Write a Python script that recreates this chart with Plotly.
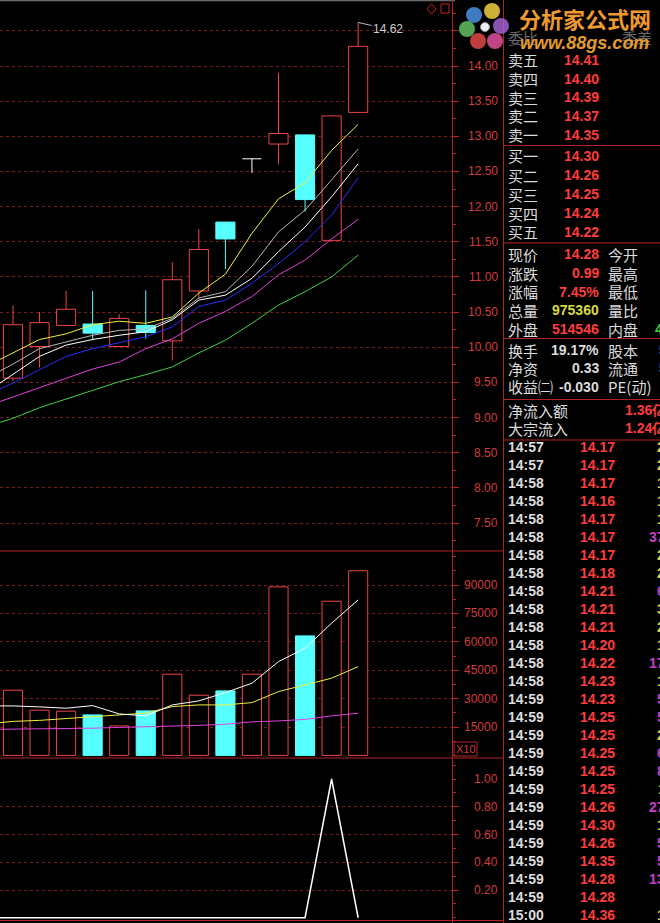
import plotly.graph_objects as go

W, H = 660, 923


def px(x):
    return x / W


def py(y):
    return 1 - y / H


# ---------------- data ----------------
days = [-1, 0, 1, 2, 3, 4, 5, 6, 7, 8, 9, 10, 11, 12, 13]
candle_days = [0, 1, 2, 3, 4, 5, 6, 7, 8, 9, 10, 11, 12, 13]
opens = [9.56, 10.01, 10.31, 10.33, 10.01, 10.31, 10.09, 10.80, 11.78, 12.68, 12.89, 13.02, 11.52, 13.34]
highs = [10.59, 10.50, 10.80, 10.80, 10.47, 10.81, 11.21, 11.68, 11.78, 12.68, 13.90, 13.02, 13.30, 14.62]
lows = [9.52, 9.71, 10.30, 10.10, 10.00, 10.12, 9.81, 10.69, 11.11, 12.48, 12.60, 11.93, 11.52, 13.34]
closes = [10.32, 10.35, 10.54, 10.20, 10.41, 10.21, 10.96, 11.39, 11.54, 12.68, 13.04, 12.10, 13.29, 14.28]
volumes = [34440, 23870, 23350, 21390, 15580, 23500, 42890, 31800, 34070, 42890, 89000, 63120, 81440, 97536]

ma_yellow = [9.73, 9.92, 10.11, 10.19, 10.32, 10.37, 10.34, 10.43, 10.77, 11.04, 11.62, 12.11, 12.34, 12.80, 13.17]
ma_silver = [9.56, 9.76, 9.98, 10.08, 10.17, 10.24, 10.26, 10.41, 10.70, 10.79, 11.15, 11.64, 11.95, 12.38, 12.82]
ma_white = [9.36, 9.61, 9.87, 10.03, 10.11, 10.17, 10.22, 10.39, 10.67, 10.74, 10.98, 11.36, 11.71, 12.14, 12.61]
ma_blue = [9.32, 9.49, 9.68, 9.87, 9.98, 10.06, 10.15, 10.29, 10.58, 10.67, 10.91, 11.19, 11.50, 11.88, 12.41]
ma_magenta = [9.16, 9.29, 9.43, 9.56, 9.69, 9.79, 9.98, 10.12, 10.34, 10.51, 10.72, 11.03, 11.24, 11.54, 11.82]
ma_green = [8.87, 8.99, 9.14, 9.26, 9.39, 9.51, 9.61, 9.72, 9.92, 10.10, 10.34, 10.60, 10.79, 11.00, 11.31]

vol_ma_white = [26140, 26140, 25620, 24930, 26300, 21920, 20860, 26670, 28790, 33170, 38130, 49540, 56620, 69820, 82130]
vol_ma_yellow = [16640, 17960, 18490, 19540, 20490, 21390, 22290, 25780, 26670, 26670, 27890, 33700, 37240, 40780, 46900]
vol_ma_magenta = [13730, 13840, 14000, 14160, 14370, 14790, 15050, 15320, 15850, 16480, 17690, 18220, 19010, 20860, 22290]

signal = [0, 0, 0, 0, 0, 0, 0, 0, 0, 0, 0, 0, 0, 1, 0]

price_ticks = [7.5, 8.0, 8.5, 9.0, 9.5, 10.0, 10.5, 11.0, 11.5, 12.0, 12.5, 13.0, 13.5, 14.0]
price_labels = ["7.50", "8.00", "8.50", "9.00", "9.50", "10.00", "10.50", "11.00", "11.50", "12.00",
                "12.50", "13.00", "13.50", "14.00"]
vol_ticks = [15000, 30000, 45000, 60000, 75000, 90000]
vol_labels = ["15000", "30000", "45000", "60000", "75000", "90000"]
sig_ticks = [0.2, 0.4, 0.6, 0.8, 1.0]
sig_labels = ["0.20", "0.40", "0.60", "0.80", "1.00"]
sig_grid = [0.2, 0.4, 0.6, 0.8]

book_labels = ["卖五", "卖四", "卖三", "卖二", "卖一", "买一", "买二", "买三", "买四", "买五"]
book_prices = ["14.41", "14.40", "14.39", "14.37", "14.35", "14.30", "14.26", "14.25", "14.24", "14.22"]

quote_labels_l = ["现价", "涨跌", "涨幅", "总量", "外盘"]
quote_values_l = ["14.28", "0.99", "7.45%", "975360", "514546"]
quote_colors_l = ["red", "red", "red", "yellow", "red"]
quote_labels_r = ["今开", "最高", "最低", "量比", "内盘"]

info_labels_l = ["换手", "净资", "收益㈡"]
info_values_l = ["19.17%", "0.33", "-0.030"]
info_labels_r = ["股本", "流通", "PE(动)"]

flow_labels = ["净流入额", "大宗流入"]
flow_values = ["1.36亿", "1.24亿"]

tape_times = ["14:57", "14:57", "14:58", "14:58", "14:58", "14:58", "14:58", "14:58", "14:58", "14:58",
              "14:58", "14:58", "14:58", "14:58", "14:59", "14:59", "14:59", "14:59", "14:59", "14:59",
              "14:59", "14:59", "14:59", "14:59", "14:59", "14:59", "15:00"]
tape_prices = ["14.17", "14.17", "14.17", "14.16", "14.17", "14.17", "14.17", "14.18", "14.21", "14.21",
               "14.21", "14.20", "14.22", "14.23", "14.23", "14.25", "14.25", "14.25", "14.25", "14.25",
               "14.26", "14.30", "14.26", "14.35", "14.28", "14.28", "14.36"]
tape_vols = ["21", "25", "13", "12", "10", "372", "20", "26", "68", "30", "22", "15", "172", "18",
             "51", "50", "22", "60", "80", "11", "275", "13", "55", "58", "136", "8", "10"]
tape_big = [0, 0, 0, 0, 0, 1, 0, 0, 1, 0, 0, 0, 1, 0, 1, 1, 0, 1, 1, 0, 1, 0, 1, 1, 1, 0, 0]

# ---------------- styling ----------------
BG = "#000000"
RED = "#EE4444"
CYAN = "#55FFFF"
AXC = "#B22222"
GRID = "#7A1C1C"
LBL = "#D23C3C"
TXT = "#DCDCDC"
VRED = "#FF3C3C"
VYEL = "#D8D840"
PURP = "#C040C0"
NUMF = "Liberation Sans"
CJK = "Noto Sans CJK SC"
BW = 0.72

fig = go.Figure()

up = [i for i in range(len(candle_days)) if closes[i] > opens[i]]
down = [i for i in range(len(candle_days)) if closes[i] < opens[i]]
flat = [i for i in range(len(candle_days)) if closes[i] == opens[i]]


def wicks(idx):
    xs, ys = [], []
    for i in idx:
        d = candle_days[i]
        top = max(opens[i], closes[i])
        bot = min(opens[i], closes[i])
        if highs[i] > top:
            xs += [d, d, None]
            ys += [top, highs[i], None]
        if lows[i] < bot:
            xs += [d, d, None]
            ys += [bot, lows[i], None]
    return xs, ys


# candle bodies
fig.add_trace(go.Bar(x=[candle_days[i] for i in up], y=[closes[i] - opens[i] for i in up],
                     base=[opens[i] for i in up], width=BW,
                     marker=dict(color=BG, line=dict(color=RED, width=1)),
                     xaxis="x", yaxis="y", hoverinfo="skip"))
fig.add_trace(go.Bar(x=[candle_days[i] for i in down], y=[opens[i] - closes[i] for i in down],
                     base=[closes[i] for i in down], width=BW,
                     marker=dict(color=CYAN, line=dict(color=CYAN, width=1)),
                     xaxis="x", yaxis="y", hoverinfo="skip"))

for idx, col in [(up, RED), (down, CYAN), (flat, "#FFFFFF")]:
    xs, ys = wicks(idx)
    if xs:
        fig.add_trace(go.Scatter(x=xs, y=ys, mode="lines", line=dict(color=col, width=1),
                                 xaxis="x", yaxis="y", hoverinfo="skip"))

# doji bodies
dx, dy = [], []
for i in flat:
    d = candle_days[i]
    dx += [d - BW / 2, d + BW / 2, None]
    dy += [closes[i], closes[i], None]
fig.add_trace(go.Scatter(x=dx, y=dy, mode="lines", line=dict(color="#FFFFFF", width=1),
                         xaxis="x", yaxis="y", hoverinfo="skip"))

# moving averages
for vals, col in [(ma_green, "#40D040"), (ma_magenta, "#E040E0"), (ma_blue, "#2830FF"),
                  (ma_white, "#FFFFFF"), (ma_silver, "#B8B8B8"), (ma_yellow, "#F0F040")]:
    fig.add_trace(go.Scatter(x=days, y=vals, mode="lines", line=dict(color=col, width=1),
                             xaxis="x", yaxis="y", hoverinfo="skip"))

# volume bars
vup = [i for i in range(len(candle_days)) if closes[i] >= opens[i]]
vdn = [i for i in range(len(candle_days)) if closes[i] < opens[i]]
fig.add_trace(go.Bar(x=[candle_days[i] for i in vup], y=[volumes[i] for i in vup], width=BW,
                     marker=dict(color=BG, line=dict(color=RED, width=1)),
                     xaxis="x", yaxis="y2", hoverinfo="skip"))
fig.add_trace(go.Bar(x=[candle_days[i] for i in vdn], y=[volumes[i] for i in vdn], width=BW,
                     marker=dict(color=CYAN, line=dict(color=CYAN, width=1)),
                     xaxis="x", yaxis="y2", hoverinfo="skip"))
for vals, col in [(vol_ma_magenta, "#E040E0"), (vol_ma_yellow, "#F0F040"), (vol_ma_white, "#FFFFFF")]:
    fig.add_trace(go.Scatter(x=days, y=vals, mode="lines", line=dict(color=col, width=1),
                             xaxis="x", yaxis="y2", hoverinfo="skip"))

# indicator
fig.add_trace(go.Scatter(x=days, y=signal, mode="lines", line=dict(color="#FFFFFF", width=1.5),
                         xaxis="x", yaxis="y3", hoverinfo="skip"))

# ---------------- axes ----------------
common = dict(side="right", anchor="x", showgrid=True, gridcolor=GRID, griddash="dot", gridwidth=1,
              ticks="outside", ticklen=6, tickwidth=1, tickcolor=AXC, showticklabels=False,
              zeroline=False, showline=False, fixedrange=True)

fig.update_layout(
    width=W, height=H, margin=dict(l=0, r=0, t=0, b=0),
    paper_bgcolor=BG, plot_bgcolor=BG, showlegend=False, barmode="overlay",
    xaxis=dict(domain=[0, px(452)], range=[-13 / 26.55, 439 / 26.55], visible=False, fixedrange=True),
    yaxis=dict(domain=[py(551), 1], range=[7.1017, 14.9387], tickmode="linear", tick0=7.5, dtick=0.5,
               minor=dict(tick0=7.5, dtick=0.25, ticks="outside", ticklen=3, tickcolor=AXC, showgrid=False),
               **common),
    yaxis2=dict(domain=[py(758), py(551)], range=[-1373, 107958], tickmode="array", tickvals=vol_ticks,
                minor=dict(tickmode="linear", tick0=0, dtick=7500, ticks="outside", ticklen=3,
                           tickcolor=AXC, showgrid=False),
                **common),
    yaxis3=dict(domain=[py(920), py(758)], range=[-0.0162, 1.1514], tickmode="array", tickvals=sig_grid,
                minor=dict(tickmode="linear", tick0=0, dtick=0.1, ticks="outside", ticklen=3,
                           tickcolor=AXC, showgrid=False),
                **common),
)

ann = []


def txt(x, y, s, color, size, anchor="left", family=NUMF, bold=False, xref="paper", yref="paper"):
    ann.append(dict(x=x, y=y, xref=xref, yref=yref, text=s, showarrow=False, xanchor=anchor,
                    yanchor="middle",
                    font=dict(family=family, size=size, color=color, weight="bold" if bold else "normal")))


# axis labels
for v, s in zip(price_ticks, price_labels):
    txt(px(500), v, s, LBL, 12, anchor="right", yref="y")
for v, s in zip(vol_ticks, vol_labels):
    txt(px(500), v, s, LBL, 12, anchor="right", yref="y2")
for v, s in zip(sig_ticks, sig_labels):
    txt(px(500), v, s, LBL, 12, anchor="right", yref="y3")
txt(px(465.5), py(749), "X10", LBL, 11, anchor="center")

# high marker
ann.append(dict(x=candle_days[-1], y=highs[-1], xref="x", yref="y", text="14.62", showarrow=True,
                ax=30, ay=7, arrowhead=0, arrowwidth=1, arrowcolor="#BBBBBB", standoff=0,
                font=dict(family=NUMF, size=12, color="#CCCCCC")))

# hidden header row under logo
txt(px(506), py(37), "委比", "#6A6A6A", 15, family=CJK)
txt(px(620), py(37), "委差", "#6A6A6A", 15, family=CJK)

# order book
book_y = [60, 78.7, 97.3, 116, 135, 155.7, 175, 194, 213, 232]
for lab, val, y in zip(book_labels, book_prices, book_y):
    txt(px(506), py(y), lab, TXT, 15, family=CJK)
    txt(px(601), py(y), val, VRED, 14, anchor="right", bold=True)

# quote block
cmap = {"red": VRED, "yellow": VYEL}
qy = [254, 273, 291.5, 310, 329]
for l, v, c, r, y in zip(quote_labels_l, quote_values_l, quote_colors_l, quote_labels_r, qy):
    txt(px(506), py(y), l, TXT, 15, family=CJK)
    txt(px(601), py(y), v, cmap[c], 14, anchor="right", bold=True)
    txt(px(606), py(y), r, TXT, 15, family=CJK)
txt(px(653), py(329), "460814", "#40D040", 14, bold=True)

iy = [350, 368.3, 386.7]
for l, v, r, y in zip(info_labels_l, info_values_l, info_labels_r, iy):
    txt(px(506), py(y), l, TXT, 15, family=CJK)
    txt(px(601), py(y), v, TXT, 14, anchor="right", bold=True)
    txt(px(606), py(y), r, TXT, 15, family=CJK)
txt(px(657), py(350), "5.09亿", TXT, 14, bold=True)
txt(px(657), py(368.3), "5.09亿", TXT, 14, bold=True)

fy = [410, 428.3]
for l, v, y in zip(flow_labels, flow_values, fy):
    txt(px(506), py(y), l, TXT, 15, family=CJK)
    txt(px(623), py(y), v, VRED, 14, bold=True)

# tape
for k, (t, p, v, b) in enumerate(zip(tape_times, tape_prices, tape_vols, tape_big)):
    y = 446.7 + 18 * k
    txt(px(506), py(y), t, TXT, 14, bold=True)
    txt(px(617), py(y), p, VRED, 14, anchor="right", bold=True)
    txt(px(675), py(y), v, PURP if b else VYEL, 14, anchor="right", bold=True)

# logo text
txt(px(585), py(18), "分析家公式网", "#EE9A2E", 22, anchor="center", family=CJK, bold=True)
ann.append(dict(x=px(584), y=py(43), xref="paper", yref="paper", showarrow=False, xanchor="center",
                yanchor="middle", text="<i>www.88gs.com</i>",
                font=dict(family=NUMF, size=18, color="#E39B2F", weight="bold")))

fig.update_layout(annotations=ann)

# ---------------- shapes ----------------
shapes = []


def hline(y, x0, x1, color=AXC, width=1):
    shapes.append(dict(type="line", xref="paper", yref="paper", x0=px(x0), x1=px(x1), y0=py(y), y1=py(y),
                       line=dict(color=color, width=width)))


def vline(x, y0, y1, color=AXC, width=1):
    shapes.append(dict(type="line", xref="paper", yref="paper", x0=px(x), x1=px(x), y0=py(y0), y1=py(y1),
                       line=dict(color=color, width=width)))


hline(0.5, 0, 455, color="#6A6A6A", width=1.5)
vline(452.5, 0, 923)
vline(503.5, 0, 923)
hline(551, 0, 503)
hline(758, 0, 503)
hline(920.5, 0, 503)
for y in [145.5, 243, 338.5, 399.5, 440]:
    hline(y, 503, 660)

# X10 box
shapes.append(dict(type="rect", xref="paper", yref="paper", x0=px(454), x1=px(477), y0=py(756), y1=py(742),
                   line=dict(color=AXC, width=1)))
# top-right icons
shapes.append(dict(type="path", xref="paper", yref="paper",
                   path=f"M {px(427)} {py(9)} L {px(431.5)} {py(4)} L {px(436)} {py(9)} L {px(431.5)} {py(14)} Z",
                   line=dict(color="#CC2222", width=1)))
shapes.append(dict(type="rect", xref="paper", yref="paper", x0=px(441), x1=px(449), y0=py(13), y1=py(4),
                   line=dict(color="#CC2222", width=1)))

# flower logo
petals = [((474, 15), "#4A90E0"), ((492, 11), "#F0D040"), ((501, 26), "#A060D0"),
          ((495, 41), "#E0509A"), ((478, 41), "#E04848"), ((467, 29), "#60C060")]
for (cx, cy), col in petals:
    rx, ry = 8, 8
    shapes.append(dict(type="circle", xref="paper", yref="paper", x0=px(cx - rx), x1=px(cx + rx),
                       y0=py(cy + ry), y1=py(cy - ry), fillcolor=col, line=dict(width=0), opacity=0.85,
                       layer="above"))
shapes.append(dict(type="circle", xref="paper", yref="paper", x0=px(480.5), x1=px(489.5), y0=py(31.5),
                   y1=py(22.5), fillcolor="#F0F0F0", line=dict(color="#909090", width=1), layer="above"))

fig.update_layout(shapes=shapes)

fig.write_html("out.html", config={"displayModeBar": False},
               post_script="document.body.style.margin='0';document.body.style.overflow='hidden';")
